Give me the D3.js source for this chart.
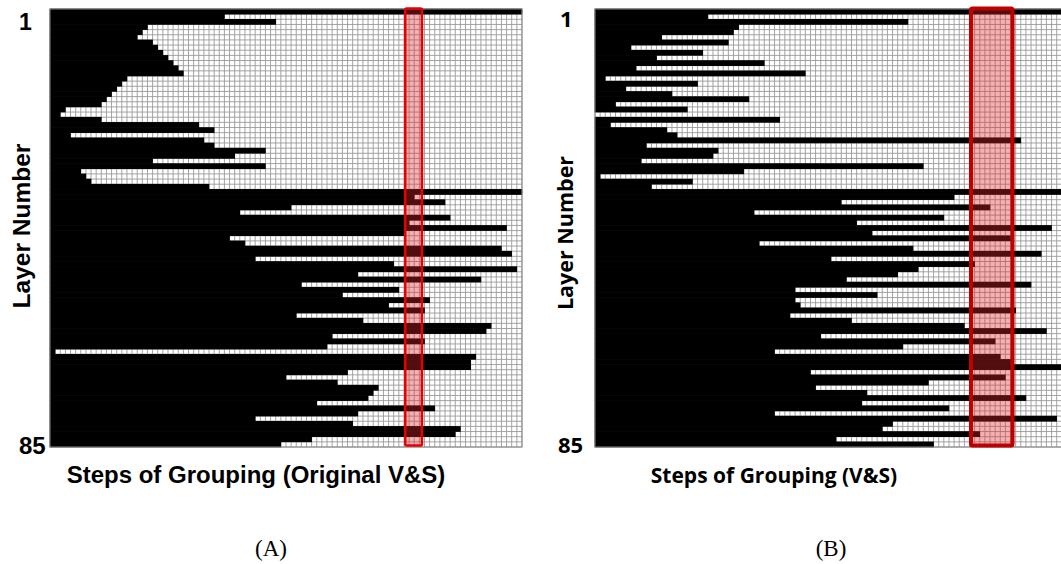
<!DOCTYPE html>
<html><head><meta charset="utf-8">
<script src="https://cdn.jsdelivr.net/npm/d3@7"></script>
<style>body{margin:0;background:#fff}svg{display:block}</style></head>
<body>
<svg id="c" width="1061" height="564"></svg>
<script>
// ---- data ----
const layers = d3.range(1, 86);               // layer numbers 1..85
const layerTicks = [1, 85];
const stepsA = d3.range(1, 93);               // grouping steps, panel A
const stepsB = d3.range(1, 92);               // grouping steps, panel B (visible part)
// number of grouping steps (from the left) for which each layer is black
const blackA = [92,34,44,19,18,17,20,21,22,23,24,25,26,15,14,13,12,11,10,3,
  2,10,29,32,4,30,32,42,36,20,42,6,7,8,31,
  92,71,77,47,37,78,70,89,69,35,38,88,90,40,67,91,60,84,49,68,57,74,66,73,48,
  61,86,85,55,73,54,1,83,82,82,58,46,56,64,63,62,52,75,60,40,59,80,79,51,45];
const blackB = [91,22,61,28,27,13,26,7,21,12,33,8,41,2,20,6,15,30,4,18,0,36,3,14,16,83,10,
  24,23,9,64,29,1,19,11,
  91,70,48,77,31,68,51,89,54,81,32,62,87,46,74,63,59,49,85,39,55,
  39,40,82,38,50,72,88,44,78,60,35,79,81,91,42,80,65,43,53,84,52,69,35,90,58,56,75,47,66];
const highlightA = [70, 72];                  // highlighted steps (first, last)
const highlightB = [74, 81];
const titleA = "Steps of Grouping (Original V&S)";
const titleB = "Steps of Grouping (V&S)";
const yTitle = "Layer Number";

const svg = d3.select("#c");

function panel(o) {
  const g = svg.append("g");
  const x = d3.scaleBand().domain(o.steps).range([o.x0, o.x0 + o.steps.length * o.cell]);
  const y = d3.scaleBand().domain(layers).range([o.y0, o.y1]);
  const w = x.range()[1] - o.x0;
  g.append("rect").attr("x", o.x0).attr("y", o.y0).attr("width", w).attr("height", o.y1 - o.y0).attr("fill", "#fff");
  const grid = g.append("g").attr("stroke", "#9a9a9a").attr("stroke-width", 0.9);
  grid.selectAll("line.v").data(o.steps.concat([null])).join("line")
    .attr("x1", (d, i) => o.x0 + i * x.bandwidth()).attr("x2", (d, i) => o.x0 + i * x.bandwidth())
    .attr("y1", o.y0).attr("y2", o.y1);
  grid.selectAll("line.h").data(layers.concat([null])).join("line")
    .attr("y1", (d, i) => o.y0 + i * y.bandwidth()).attr("y2", (d, i) => o.y0 + i * y.bandwidth())
    .attr("x1", o.x0).attr("x2", o.x0 + w);
  g.append("g").selectAll("rect").data(layers).join("rect")
    .attr("x", o.x0 - 0.3)
    .attr("y", d => y(d) - 0.3)
    .attr("width", d => o.black[d - 1] > 0 ? o.black[d - 1] * x.bandwidth() + 0.6 : 0)
    .attr("height", y.bandwidth() + 0.6)
    .attr("fill", "#000");
  g.append("rect").attr("x", o.x0).attr("y", o.y0).attr("width", w).attr("height", o.y1 - o.y0)
    .attr("fill", "none").attr("stroke", "#8a8a8a").attr("stroke-width", 1);
  // highlight box
  const hx0 = x(o.hl[0]) + o.hlPad[0], hx1 = x(o.hl[1]) + x.bandwidth() + o.hlPad[1];
  g.append("rect").attr("x", hx0).attr("y", o.y0 - 0.5).attr("width", hx1 - hx0).attr("height", o.y1 - o.y0 - 1)
    .attr("fill", "rgb(228,40,40)").attr("fill-opacity", 0.36)
    .attr("stroke", o.hlStroke).attr("stroke-width", o.hlW).attr("rx", 1.5);
  // layer ticks 1 and 85
  g.selectAll("text.tick").data(layerTicks).join("text").attr("class", "tick")
    .attr("x", d => d === 1 ? o.tick1X : o.tick85X)
    .attr("y", d => d === 1 ? o.tick1Y : o.tick85Y)
    .attr("font-family", o.font).attr("font-weight", "bold")
    .attr("font-size", d => d === 1 ? o.tick1Size : o.tick85Size).text(d => d);
  g.append("text").attr("transform", `translate(${o.yTitleX},${o.yTitleY}) rotate(-90)`)
    .attr("text-anchor", "middle").attr("font-family", o.font).attr("font-weight", "bold")
    .attr("font-size", o.yTitleSize).text(yTitle);
  g.append("text").attr("x", o.titleX).attr("y", 483).attr("text-anchor", "middle")
    .attr("font-family", o.font).attr("font-weight", "bold").attr("font-size", o.titleSize).text(o.title);
  g.append("text").attr("x", o.capX).attr("y", 556).attr("text-anchor", "middle")
    .attr("font-family", "Liberation Serif").attr("font-size", 23).text(o.cap);
}

panel({steps: stepsA, black: blackA, x0: 50, y0: 9, y1: 447, cell: 5.13, hl: highlightA, hlPad: [1.3, 2.6],
  hlStroke: "#e60000", hlW: 2.5, font: "Liberation Sans",
  tick1X: 19, tick1Y: 29.5, tick1Size: 23, tick85X: 19, tick85Y: 454, tick85Size: 24,
  yTitleX: 30, yTitleY: 226, yTitleSize: 24.5, title: titleA, titleX: 256, titleSize: 24, cap: "(A)", capX: 271});
panel({steps: stepsB, black: blackB, x0: 595, y0: 9, y1: 447, cell: 5.13, hl: highlightB, hlPad: [1.5, 2],
  hlStroke: "#c00000", hlW: 4, font: "Open Sans",
  tick1X: 560, tick1Y: 27, tick1Size: 22, tick85X: 558, tick85Y: 453, tick85Size: 22,
  yTitleX: 573, yTitleY: 233, yTitleSize: 21.5, title: titleB, titleX: 774, titleSize: 21, cap: "(B)", capX: 831});
</script>
</body></html>
